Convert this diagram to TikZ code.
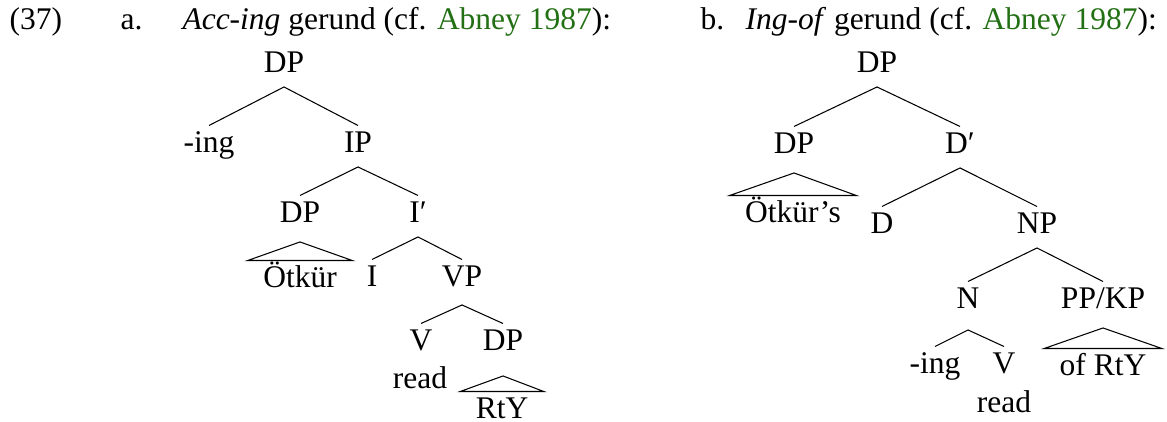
\documentclass[tikz,border=0pt]{standalone}
\usepackage{fontspec}
\setmainfont{Liberation Serif}
\usetikzlibrary{calc}
\definecolor{citegreen}{RGB}{35,112,20}
\begin{document}
\begin{tikzpicture}[x=0.381pt,y=-0.381pt,
  every node/.style={font=\fontsize{12}{14}\selectfont},
  head/.style={anchor=base west, inner sep=0pt},
  lab/.style={anchor=base, text height=8pt, text depth=3.6pt, inner sep=1.9pt},
  branch/.style={line width=0.4pt},
  roof/.style={line width=0.4pt, line join=miter}]
\useasboundingbox (0,0) rectangle (1167,421);
% headings
\node[head] (num) at (9,30) {(37)};
\node[head] (ha) at (120,30) {a.};
\node[head] (ta) at (182,30) {\textit{Acc-ing} gerund (cf. \textcolor{citegreen}{Abney 1987}):};
\node[head] (hb) at (700,30) {b.};
\node[head] (tb) at (745,30) {\textit{Ing-of} gerund (cf. \textcolor{citegreen}{Abney 1987}):};
% tree a
\node[lab] (rA) at (284,72) {DP};
\node[lab] (ingA) at (209,152) {-ing};
\node[lab] (ipA) at (358,152) {IP};
\node[lab] (dpA) at (300,222) {DP};
\node[lab] (ibarA) at (418,222) {I′};
\node[lab] (otk) at (300,287) {Ötkür};
\node[lab] (iA) at (372,286) {I};
\node[lab] (vpA) at (462,286) {VP};
\node[lab] (vA) at (421,350) {V};
\node[lab] (dpA2) at (503,350) {DP};
\node[lab] (readA) at (420,388) {read};
\node[lab] (rty) at (502,418) {RtY};
\draw[branch] (rA.south) -- (ingA.north);
\draw[branch] (rA.south) -- (ipA.north);
\draw[branch] (ipA.south) -- (dpA.north);
\draw[branch] (ipA.south) -- (ibarA.north);
\draw[branch] (ibarA.south) -- (iA.north);
\draw[branch] (ibarA.south) -- (vpA.north);
\draw[branch] ($(vpA.south)+(0,4)$) -- (vA.north);
\draw[branch] ($(vpA.south)+(0,4)$) -- (dpA2.north);
\draw[roof] ($(dpA.south)+(0,5)$) -- ($(otk.north west)+(-10,0)$) -- ($(otk.north east)+(10,0)$) -- cycle;
\draw[roof] ($(dpA2.south)+(0,11)$) -- ($(rty.north west)+(-10,0)$) -- ($(rty.north east)+(10,0)$) -- cycle;
% tree b
\node[lab] (rB) at (877,72) {DP};
\node[lab] (dpB) at (794,153) {DP};
\node[lab] (dbar) at (960,153) {D′};
\node[lab] (otks) at (793,222) {Ötkür’s};
\node[lab] (dB) at (882,233) {D};
\node[lab] (npB) at (1037,233) {NP};
\node[lab] (nB) at (968,308) {N};
\node[lab] (ppB) at (1103,308) {PP/KP};
\node[lab] (ingB) at (935,373) {-ing};
\node[lab] (vB) at (1004,373) {V};
\node[lab] (ofr) at (1103,375) {of RtY};
\node[lab] (readB) at (1004,412) {read};
\draw[branch] (rB.south) -- (dpB.north);
\draw[branch] (rB.south) -- (dbar.north);
\draw[branch] (dbar.south) -- (dB.north);
\draw[branch] (dbar.south) -- (npB.north);
\draw[branch] (npB.south) -- (nB.north);
\draw[branch] (npB.south) -- (ppB.north);
\draw[branch] ($(nB.south)+(0,7)$) -- (ingB.north);
\draw[branch] ($(nB.south)+(0,7)$) -- (vB.north);
\draw[roof] ($(dpB.south)+(0,5)$) -- ($(otks.north west)+(-10,0)$) -- ($(otks.north east)+(10,0)$) -- cycle;
\draw[roof] ($(ppB.south)+(0,5)$) -- ($(ofr.north west)+(-10,0)$) -- ($(ofr.north east)+(10,0)$) -- cycle;
\end{tikzpicture}
\end{document}
